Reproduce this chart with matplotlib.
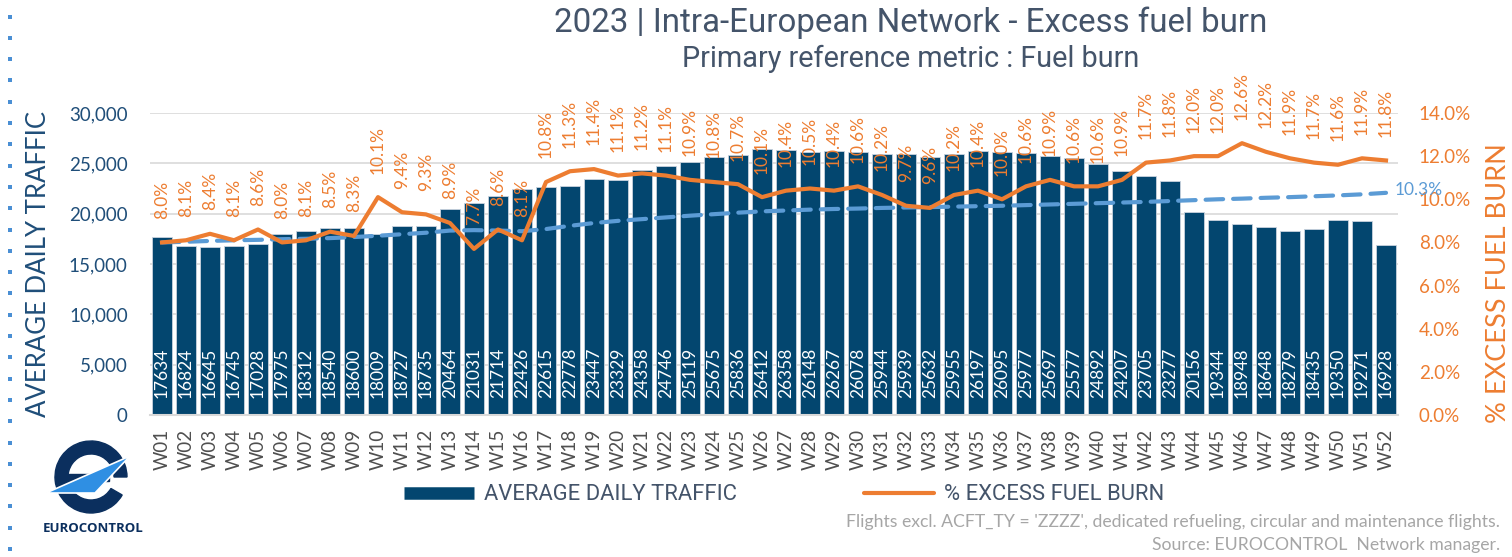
import matplotlib
matplotlib.use("Agg")
import matplotlib.pyplot as plt
import numpy as np
from matplotlib.lines import Line2D
from matplotlib.patches import Wedge, Polygon, Rectangle
from matplotlib.ticker import FuncFormatter

# ---- data -------------------------------------------------------------
weeks = [f"W{i:02d}" for i in range(1, 53)]

daily_traffic = [
    17634, 16824, 16645, 16745, 17028, 17975, 18312, 18540, 18600, 18009,
    18727, 18735, 20464, 21031, 21714, 22426, 22615, 22778, 23447, 23329,
    24358, 24746, 25119, 25675, 25836, 26412, 26358, 26148, 26267, 26078,
    25944, 25939, 25632, 25955, 26197, 26095, 25977, 25697, 25577, 24892,
    24207, 23705, 23277, 20156, 19344, 18948, 18648, 18279, 18435, 19350,
    19271, 16928,
]

excess_fuel_pct = [
    8.0, 8.1, 8.4, 8.1, 8.6, 8.0, 8.1, 8.5, 8.3, 10.1,
    9.4, 9.3, 8.9, 7.7, 8.6, 8.1, 10.8, 11.3, 11.4, 11.1,
    11.2, 11.1, 10.9, 10.8, 10.7, 10.1, 10.4, 10.5, 10.4, 10.6,
    10.2, 9.7, 9.6, 10.2, 10.4, 10.0, 10.6, 10.9, 10.6, 10.6,
    10.9, 11.7, 11.8, 12.0, 12.0, 12.6, 12.2, 11.9, 11.7, 11.6,
    11.9, 11.8,
]

# year-to-date average of excess fuel burn
ytd_avg_pct = [
    8.00, 8.03, 8.07, 8.10, 8.12, 8.15, 8.17, 8.20, 8.25, 8.31,
    8.38, 8.45, 8.55, 8.57, 8.55, 8.52, 8.62, 8.77, 8.90, 9.00,
    9.08, 9.16, 9.24, 9.31, 9.38, 9.44, 9.48, 9.52, 9.55, 9.57,
    9.60, 9.62, 9.64, 9.66, 9.68, 9.70, 9.73, 9.76, 9.79, 9.82,
    9.85, 9.88, 9.92, 9.96, 10.00, 10.03, 10.07, 10.10, 10.14, 10.18,
    10.23, 10.30,
]

left_ticks = [0, 5000, 10000, 15000, 20000, 25000, 30000]
right_ticks = [0, 2, 4, 6, 8, 10, 12, 14]

# ---- style ------------------------------------------------------------
NAVY = "#03466F"
ORANGE = "#ED7D31"
LIGHTBLUE = "#5B9BD5"
SLATE = "#44546A"
AXISBLUE = "#1F4E79"
GRID = "#D9D9D9"
FOOT = "#A6A6A6"

BODY = ["Lato", "DejaVu Sans"]
HEAD = ["Roboto", "DejaVu Sans"]

fig = plt.figure(figsize=(15.12, 5.57), dpi=100)
fig.patch.set_facecolor("white")

ax = fig.add_axes([150 / 1512, 1 - 415 / 557, (1398 - 150) / 1512, (415 - 113) / 557])
x = np.arange(len(weeks))

ax.bar(x, daily_traffic, width=0.84, color=NAVY, edgecolor="#C9D3DE",
       linewidth=0.6, zorder=2)
ax.set_xlim(-0.5, len(weeks) - 0.5)
ax.set_ylim(0, 30000)
ax.set_yticks(left_ticks)
ax.yaxis.set_major_formatter(FuncFormatter(lambda v, p: f"{int(v):,}"))
ax.grid(axis="y", color=GRID, linewidth=1.2, zorder=0)
ax.set_axisbelow(True)
for s in ["top", "right", "left"]:
    ax.spines[s].set_visible(False)
ax.spines["bottom"].set_color(GRID)
ax.spines["bottom"].set_linewidth(1.5)
ax.tick_params(axis="y", length=0, pad=16, labelsize=13.5, labelcolor=AXISBLUE)
ax.tick_params(axis="x", length=0, pad=10, labelsize=13.5, labelcolor="#4F4F4F")
ax.set_xticks(x)
ax.set_xticklabels(weeks, rotation=90, family=BODY)
for lab in ax.get_yticklabels():
    lab.set_family(BODY)
ax.set_ylabel("AVERAGE DAILY TRAFFIC", fontsize=18.5, color=AXISBLUE,
              family=BODY, labelpad=13)

# traffic values inside the bars
for xi, v in zip(x, daily_traffic):
    ax.annotate(f"{v}", (xi, 0), xytext=(0, 12), textcoords="offset points",
                rotation=90, ha="center", va="bottom", color="white",
                fontsize=12.5, family=BODY, zorder=5)

# ---- secondary axis: excess fuel burn --------------------------------
ax2 = ax.twinx()
ax2.set_ylim(0, 14)
ax2.set_yticks(right_ticks)
ax2.yaxis.set_major_formatter(FuncFormatter(lambda v, p: f"{v:.1f}%"))
for s in ["top", "right", "left", "bottom"]:
    ax2.spines[s].set_visible(False)
ax2.tick_params(axis="y", length=0, pad=15, labelsize=13.5, labelcolor=ORANGE)
for lab in ax2.get_yticklabels():
    lab.set_family(BODY)
ax2.set_ylabel("% EXCESS FUEL BURN", fontsize=19.5, color=ORANGE, family=BODY,
               rotation=90)
ax2.yaxis.set_label_coords(1.0705, 0.437)

ax2.plot(x, ytd_avg_pct, color=LIGHTBLUE, linewidth=3, dashes=(4.2, 2.4),
         dash_capstyle="round", zorder=3)
ax2.plot(x, excess_fuel_pct, color=ORANGE, linewidth=3, zorder=4,
         solid_joinstyle="round")

for xi, v in zip(x, excess_fuel_pct):
    ax2.annotate(f"{v:.1f}%", (xi, v), xytext=(0, 17), textcoords="offset points",
                 rotation=90, ha="center", va="bottom", color=ORANGE,
                 fontsize=12.5, family=BODY, zorder=6)

ax2.annotate(f"{ytd_avg_pct[-1]:.1f}%", (x[-1], ytd_avg_pct[-1]), xytext=(6, 2),
             textcoords="offset points", ha="left", va="center",
             color=LIGHTBLUE, fontsize=12.5, family=BODY)

# ---- titles -----------------------------------------------------------
fig.text(0.602, 1 - 23 / 557, "2023 | Intra-European Network - Excess fuel burn",
         ha="center", va="center", fontsize=23.8, color=SLATE, family=HEAD)
fig.text(0.602, 1 - 59 / 557, "Primary reference metric : Fuel burn",
         ha="center", va="center", fontsize=20.8, color=SLATE, family=HEAD)

# ---- legend -----------------------------------------------------------
handles = [
    Line2D([], [], color=NAVY, linewidth=9, solid_capstyle="butt"),
    Line2D([], [], color=ORANGE, linewidth=3, solid_capstyle="round"),
]
leg = fig.legend(handles, ["AVERAGE DAILY TRAFFIC", "% EXCESS FUEL BURN"],
                 loc="center", bbox_to_anchor=(784 / 1512, 1 - 495 / 557),
                 ncol=2, frameon=False, handlelength=3.2, handletextpad=0.45,
                 columnspacing=5.8, prop={"family": HEAD, "size": 15.8})
for t in leg.get_texts():
    t.set_color(SLATE)

# ---- footnote ---------------------------------------------------------
fig.text(1500 / 1512, 1 - 522 / 557,
         "Flights excl. ACFT_TY = 'ZZZZ', dedicated refueling, circular and maintenance flights.",
         ha="right", va="center", fontsize=12.7, color=FOOT, family=BODY)
fig.text(1500 / 1512, 1 - 545 / 557, "Source: EUROCONTROL  Network manager.",
         ha="right", va="center", fontsize=12.7, color=FOOT, family=BODY)

# ---- dotted margin on the left ---------------------------------------
dot_y = np.arange(549, 0, -21.3)
fig.add_artist(Line2D(np.full(dot_y.size, 10 / 1512), 1 - dot_y / 557,
                      transform=fig.transFigure, linestyle="none", marker="s",
                      markersize=3, color="#4A8FD4", markeredgewidth=0))

# ---- logo -------------------------------------------------------------
logo = fig.add_axes([40 / 1512, 1 - 540 / 557, 106 / 1512, 110 / 557])
logo.set_xlim(0, 106)
logo.set_ylim(0, 110)
logo.set_aspect("equal")
logo.axis("off")
cx, cy, r = 51, 63, 36
logo.add_patch(Wedge((cx, cy), r, 0, 330, width=13, color="#0B2F5E"))
logo.add_patch(Rectangle((cx - 24, cy - 4), 42, 7, color="#0B2F5E"))
logo.add_patch(Polygon([(6, 47), (90, 84), (55, 47)], closed=True,
                       facecolor="#2F8FE3", edgecolor="white", linewidth=1.2))
logo.text(cx + 2, 12, "EUROCONTROL", ha="center", va="center", fontsize=9.5,
          fontweight="bold", color="#0B2F5E", family=["Open Sans", "DejaVu Sans"])

fig.savefig("out.png", dpi=100, facecolor="white")
